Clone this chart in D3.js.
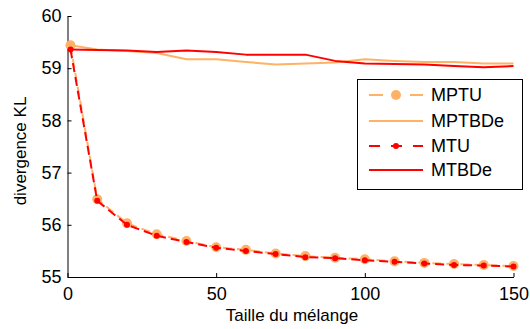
<!DOCTYPE html>
<html>
<head>
<meta charset="utf-8">
<script src="https://cdn.jsdelivr.net/npm/d3@7"></script>
<style>
  html, body { margin: 0; padding: 0; background: #fff; }
  svg { display: block; }
  text { font-family: "Liberation Sans", Arial, Helvetica, sans-serif; fill: #000; }
</style>
</head>
<body>
<svg id="chart" width="530" height="329"></svg>
<script>
// Mixture sizes (x) and KL divergence for each method
const sizes  = [1, 10, 20, 30, 40, 50, 60, 70, 80, 90, 100, 110, 120, 130, 140, 150];
const mptu   = [59.44, 56.49, 56.03, 55.82, 55.69, 55.57, 55.52, 55.45, 55.40, 55.37, 55.34, 55.30, 55.27, 55.25, 55.23, 55.21];
const mptbde = [59.44, 59.36, 59.33, 59.29, 59.17, 59.17, 59.12, 59.07, 59.09, 59.11, 59.17, 59.14, 59.12, 59.12, 59.09, 59.09];
const mtu    = [59.36, 56.46, 56.00, 55.79, 55.67, 55.56, 55.50, 55.44, 55.38, 55.36, 55.32, 55.29, 55.26, 55.23, 55.22, 55.20];
const mtbde  = [59.36, 59.35, 59.34, 59.31, 59.34, 59.31, 59.26, 59.26, 59.26, 59.14, 59.09, 59.08, 59.07, 59.04, 59.02, 59.04];

const xTicks = [0, 50, 100, 150];
const yTicks = [55, 56, 57, 58, 59, 60];
const seriesNames = ["MPTU", "MPTBDe", "MTU", "MTBDe"];

const ORANGE = "#ffb266";
const RED = "#ff0000";
const FONT = "18px";

const svg = d3.select("#chart");
const x = d3.scaleLinear().domain([0, 150]).range([67.5, 513.5]);
const y = d3.scaleLinear().domain([55, 60]).range([277, 16]);

// Axes: left and bottom only, ticks pointing inward
const xAxis = d3.axisBottom(x).tickValues(xTicks).tickFormat(d3.format("d"))
  .tickSizeInner(-4).tickSizeOuter(0).tickPadding(8);
const yAxis = d3.axisLeft(y).tickValues(yTicks).tickFormat(d3.format("d"))
  .tickSizeInner(-4).tickSizeOuter(0).tickPadding(6);

const gx = svg.append("g").attr("transform", "translate(0,277)").call(xAxis);
const gy = svg.append("g").attr("transform", "translate(67.5,0)").call(yAxis);
[gx, gy].forEach(g => {
  g.select(".domain").attr("stroke", "#000");
  g.selectAll(".tick line").attr("stroke", "#000");
  g.selectAll(".tick text").style("font-size", FONT).attr("fill", "#000");
});
gx.selectAll(".tick text").attr("dy", "0.85em");

// Axis titles
svg.append("text")
  .attr("x", 292).attr("y", 321)
  .attr("text-anchor", "middle")
  .style("font-size", "17px")
  .text("Taille du mélange");

svg.append("text")
  .attr("transform", "translate(26,151) rotate(-90)")
  .attr("text-anchor", "middle")
  .style("font-size", "17px")
  .text("divergence KL");

const line = d3.line().x((d, i) => x(sizes[i])).y(d => y(d));

function drawSeries(values, color, width, dash) {
  svg.append("path")
    .datum(values)
    .attr("d", line)
    .attr("fill", "none")
    .attr("stroke", color)
    .attr("stroke-width", width)
    .attr("stroke-dasharray", dash || null)
    .attr("stroke-linejoin", "round");
}
function drawMarkers(values, color, r) {
  svg.append("g").selectAll("circle")
    .data(values)
    .join("circle")
    .attr("cx", (d, i) => x(sizes[i]))
    .attr("cy", d => y(d))
    .attr("r", r)
    .attr("fill", color);
}

drawSeries(mptu, ORANGE, 2, "9,5");
drawMarkers(mptu, ORANGE, 5);
drawSeries(mptbde, ORANGE, 2);
drawSeries(mtu, RED, 2, "9,5");
drawMarkers(mtu, RED, 3);
drawSeries(mtbde, RED, 2);

// Legend
const lg = svg.append("g");
lg.append("rect")
  .attr("x", 357.5).attr("y", 79.5).attr("width", 165).attr("height", 110)
  .attr("fill", "#fff").attr("stroke", "#000").attr("stroke-width", 1);

const legendStyle = [
  { color: ORANGE, dashed: true, r: 5, segs: [[369, 383], [410, 423]] },
  { color: ORANGE, dashed: false, r: 0, segs: [[369, 423]] },
  { color: RED, dashed: true, r: 3, segs: [[369, 380], [391, 402], [413, 423]] },
  { color: RED, dashed: false, r: 0, segs: [[369, 423]] }
];
const legendY = [95, 121, 146, 170];

seriesNames.forEach((name, i) => {
  const st = legendStyle[i];
  const yy = legendY[i];
  st.segs.forEach(s => {
    lg.append("line")
      .attr("x1", s[0]).attr("x2", s[1]).attr("y1", yy).attr("y2", yy)
      .attr("stroke", st.color).attr("stroke-width", 2);
  });
  if (st.r) {
    lg.append("circle").attr("cx", 396).attr("cy", yy).attr("r", st.r).attr("fill", st.color);
  }
  lg.append("text")
    .attr("x", 431).attr("y", yy).attr("dy", "0.36em")
    .style("font-size", FONT)
    .text(name);
});
</script>
</body>
</html>
